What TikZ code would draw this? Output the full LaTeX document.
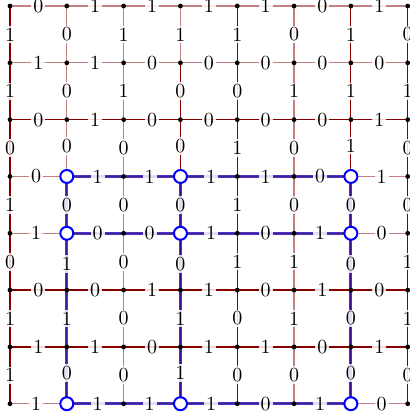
\documentclass[tikz,border=0pt]{standalone}
\usepackage{xcolor}
\usepackage{tikz}

\definecolor{edgedark}{RGB}{135,0,0}
\colorlet{edgelight}{edgedark!50}
\definecolor{loopblue}{RGB}{45,15,170}

\pgfdeclarelayer{edges}
\pgfdeclarelayer{loop}
\pgfsetlayers{edges,loop,main}

\begin{document}
\begin{tikzpicture}[
        dot/.style={circle, fill=black, inner sep=0pt, minimum size=2.4pt},
        site/.style={circle, draw=blue, fill=white, line width=1pt,
            inner sep=0pt, minimum size=6.5pt},
        bond/.style={line width=0.6pt},
        loopbond/.style={loopblue, line width=1.5pt, opacity=0.85},
        weight/.style={fill=white, fill opacity=0.85, text opacity=1, inner sep=1pt}
    ]
        \useasboundingbox (-0.176,-0.181) rectangle (7.023,7.106);
        % vertices, the loop corners as open circles
        \foreach \i in {0,...,7}
            \foreach \j in {0,...,7} {
                \pgfmathtruncatemacro\onloop{(\i==1||\i==3||\i==6)&&(\j==3||\j==4||\j==7)}
                \ifnum\onloop=1
                    \node[site] (v-\i-\j) at (\i,7-\j) {};
                \else
                    \node[dot] (v-\i-\j) at (\i,7-\j) {};
                \fi
            }
        % horizontal bonds, one list per row
        \foreach \row [count=\j from 0] in {{0,1,1,1,1,0,1},{1,1,0,0,0,0,0},
                {0,1,0,0,0,0,1},{0,1,1,1,1,0,1},{1,0,0,1,0,1,0},
                {0,0,1,1,0,1,0},{1,1,0,1,1,0,1},{1,1,1,1,0,1,0}}
            \foreach \w [count=\i from 0] in \row {
                \pgfmathtruncatemacro\ii{\i+1}
                \pgfmathtruncatemacro\dark{{0,0,1,0,0,1,1,0}[\j]}
                \ifnum\dark=1 \def\bc{edgedark}\else\def\bc{edgelight}\fi
                \begin{pgfonlayer}{edges}
                    \draw[bond, draw=\bc] (v-\i-\j.center) -- (v-\ii-\j.center);
                \end{pgfonlayer}
                \path (v-\i-\j) -- node[weight] {\w} (v-\ii-\j);
            }
        % vertical bonds, one list per column
        \foreach \col [count=\i from 0] in {{1,1,0,1,0,1,1},{0,0,0,0,1,1,0},
                {1,1,0,0,0,0,0},{1,0,0,0,0,1,1},{1,0,1,1,1,0,0},
                {0,1,0,0,1,1,0},{1,1,1,0,0,0,0},{0,1,0,0,1,1,0}}
            \foreach \w [count=\j from 0] in \col {
                \pgfmathtruncatemacro\jj{\j+1}
                \pgfmathtruncatemacro\dark{{1,0,0,1,1,0,1,1}[\i]*(1-(\i==3)*(\j==0))}
                \ifnum\dark=1 \def\bc{edgedark}\else\def\bc{edgelight}\fi
                \begin{pgfonlayer}{edges}
                    \draw[bond, draw=\bc] (v-\i-\j.center) -- (v-\i-\jj.center);
                \end{pgfonlayer}
                \path (v-\i-\j) -- node[weight] {\w} (v-\i-\jj);
            }
        % the loop
        \begin{pgfonlayer}{loop}
            \foreach \j in {3,4,7}
                \draw[loopbond] (v-1-\j.center) -- (v-6-\j.center);
            \foreach \i in {1,3,6}
                \draw[loopbond] (v-\i-3.center) -- (v-\i-7.center);
        \end{pgfonlayer}
    \end{tikzpicture}
\end{document}
